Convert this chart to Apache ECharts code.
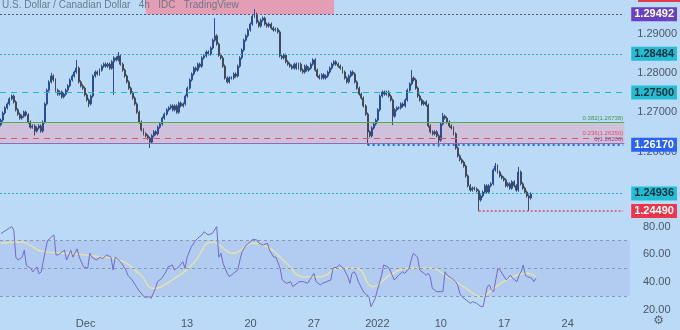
<!DOCTYPE html>
<html>
<head>
<meta charset="utf-8">
<title>USD/CAD 4h</title>
<script src="https://cdn.jsdelivr.net/npm/echarts@6/dist/echarts.min.js"></script>
<style>
  html, body { margin: 0; padding: 0; background: #bbdaf8; }
  #chart { width: 680px; height: 330px; }
</style>
</head>
<body>
<div id="chart"></div>
<script>
// --- data (4h USD/CAD, Nov 22 2021 -> Jan 19 2022) ---
const firstOpen = 1.2668;
const closes = [
  1.2680,1.2698,1.2711,1.2721,1.2734,1.2741,1.2726,1.2706,1.2695,1.2685,
  1.2690,1.2700,1.2693,1.2675,1.2662,1.2665,1.2652,1.2660,1.2665,1.2652,
  1.2675,1.2721,1.2756,1.2777,1.2792,1.2782,1.2756,1.2746,1.2751,1.2739,
  1.2746,1.2756,1.2767,1.2782,1.2792,1.2802,1.2812,1.2777,1.2767,1.2761,
  1.2744,1.2731,1.2721,1.2741,1.2792,1.2802,1.2797,1.2807,1.2817,1.2822,
  1.2817,1.2822,1.2812,1.2828,1.2838,1.2833,1.2843,1.2822,1.2807,1.2792,
  1.2777,1.2761,1.2749,1.2736,1.2721,1.2700,1.2675,1.2655,1.2645,1.2640,
  1.2634,1.2624,1.2640,1.2650,1.2645,1.2662,1.2670,1.2685,1.2695,1.2706,
  1.2711,1.2716,1.2706,1.2716,1.2700,1.2723,1.2716,1.2721,1.2741,1.2761,
  1.2782,1.2797,1.2812,1.2807,1.2822,1.2817,1.2838,1.2843,1.2853,1.2848,
  1.2863,1.2883,1.2894,1.2873,1.2845,1.2838,1.2817,1.2787,1.2777,1.2787,
  1.2787,1.2797,1.2792,1.2817,1.2838,1.2858,1.2883,1.2894,1.2909,1.2924,
  1.2944,1.2949,1.2929,1.2919,1.2934,1.2939,1.2924,1.2919,1.2924,1.2914,
  1.2909,1.2911,1.2904,1.2843,1.2838,1.2845,1.2828,1.2822,1.2817,1.2812,
  1.2822,1.2812,1.2822,1.2807,1.2802,1.2817,1.2807,1.2812,1.2822,1.2833,
  1.2807,1.2792,1.2787,1.2795,1.2787,1.2792,1.2802,1.2812,1.2822,1.2828,
  1.2822,1.2817,1.2812,1.2802,1.2787,1.2777,1.2792,1.2802,1.2797,1.2777,
  1.2761,1.2746,1.2736,1.2716,1.2695,1.2650,1.2640,1.2660,1.2670,1.2680,
  1.2706,1.2741,1.2751,1.2746,1.2751,1.2741,1.2731,1.2690,1.2706,1.2711,
  1.2711,1.2721,1.2716,1.2731,1.2756,1.2772,1.2787,1.2782,1.2761,1.2741,
  1.2731,1.2721,1.2726,1.2718,1.2665,1.2650,1.2645,1.2650,1.2640,1.2629,
  1.2670,1.2690,1.2685,1.2675,1.2665,1.2660,1.2645,1.2609,1.2589,1.2579,
  1.2573,1.2563,1.2538,1.2513,1.2502,1.2507,1.2505,1.2500,1.2477,1.2487,
  1.2497,1.2513,1.2497,1.2513,1.2518,1.2553,1.2563,1.2548,1.2538,1.2533,
  1.2528,1.2513,1.2518,1.2507,1.2523,1.2513,1.2502,1.2548,1.2518,1.2507,
  1.2497,1.2487,1.2482,1.2492
];
// wick extremes that stick out of the bodies: [bar, price]
const spikeLows = [[16,1.2641],[42,1.2713],[54,1.2744],[71,1.2609],[175,1.2617],
  [187,1.2667],[209,1.2612],[228,1.2449],[252,1.2449]];
const spikeHighs = [[24,1.2800],[36,1.2833],[56,1.2853],[102,1.2939],[121,1.2962],
  [196,1.2807],[211,1.2698],[236,1.2571],[247,1.2561]];

// RSI(14) and its moving average: [bar, value]
const rsiPoints = [[0,75],[4,79],[5,80],[6,77.5],[7,58],[8,56],[9,57],[10,58],[11,63],[12,52],
  [14,50],[15,47.5],[17,51],[18,46],[19,47.5],[21,63],[22,70],[24,72.7],[25,74],[26,59.6],
  [27,59.6],[29,62],[30,63],[31,56],[33,63],[34,58],[36,64],[37,58],[39,51],[41,50],
  [42,60.8],[43,58],[45,56],[47,58],[48,57],[50,59.6],[52,58],[53,48.8],[54,58],[55,57],
  [57,53.6],[59,48.8],[60,45],[62,41.6],[63,39.2],[65,34.4],[67,30.8],[68,29],[70,29.6],[71,28.4],
  [73,35.6],[74,40.4],[76,42.8],[78,47.5],[79,51],[81,52.4],[82,48.8],[84,51],[86,54.7],[87,50],
  [88,58],[90,65.5],[92,70],[93,71.6],[95,74],[96,76.3],[98,74],[100,75.2],[101,77.6],[102,80],
  [103,58],[104,60.8],[105,53.6],[107,46.4],[108,44],[110,46.4],[112,48.8],[113,56],[114,62],[116,66.8],
  [118,69],[119,70.9],[121,70.4],[122,68],[124,66.8],[126,68],[127,63],[129,58],[130,58],[132,50],
  [133,41.6],[135,39.2],[137,40.4],[138,36.8],[140,39.2],[141,40.4],[143,40.4],[145,39.2],[146,41.6],[148,46.4],
  [149,40.4],[151,38],[152,39.2],[154,40.4],[156,41.6],[157,50],[159,51],[160,52.4],[162,50],[164,44],
  [165,39.2],[166,46.4],[167,47.5],[168,45],[169,40.4],[171,34.4],[172,32],[174,29.6],[175,22.4],[177,28.4],
  [178,34.4],[180,45],[181,52.4],[183,51],[184,48.8],[185,45],[186,41.6],[188,45],[190,47.5],[191,46.4],
  [193,50],[194,56],[195,60.8],[197,58],[198,48.8],[200,46.4],[201,45],[202,46.4],[203,44],[204,35.6],
  [206,33.2],[208,33.2],[209,33.2],[210,47.5],[211,45],[213,42.8],[215,40.4],[216,38],[217,32],[218,29.6],
  [220,27.2],[222,24.8],[223,26],[225,24.8],[227,22.4],[228,22.4],[230,36.8],[231,38],[232,34.4],[233,33.2],
  [235,50],[236,48.8],[237,46.4],[239,41.6],[241,45],[242,42.8],[244,40.4],[245,45],[246,47.5],[247,52.4],
  [248,45],[249,44],[251,42.8],[252,40.4],[253,42.8]];
const rsiMaPoints = [[0,68],[9,69],[20,62],[31,60.8],[47,58.3],[56,56],[66,45.2],[72,35.6],[81,41.6],
  [91,53.6],[100,69],[110,60.8],[119,68],[126,65.5],[135,53.6],[143,44],[151,44],[160,50],[168,50],
  [176,36.8],[184,45.2],[193,50],[203,50],[211,44],[220,35.6],[227,29.6],[233,35.6],[239,41.6],
  [249,46.4],[253,44]];

// horizontal levels
const resistanceTop = 1.29492;
const level28484 = 1.28484;
const level275 = 1.27500;
const fib382 = 1.26738;
const fib236 = 1.26350;
const fib0 = 1.26200;
const support2617 = 1.26170;
const level24936 = 1.24936;
const low2449 = 1.24490;
const support2617From = 175;   // bar where the dotted support begins
const low2449From = 228;

const priceTicks = [1.26, 1.27, 1.28, 1.29];
const rsiTicks = [20, 40, 60, 80];
const tickLabels = [['2021-12-01','Dec'],['2021-12-13','13'],['2021-12-20','20'],['2021-12-27','27'],
  ['2022-01-03','2022'],['2022-01-10','10'],['2022-01-17','17'],['2022-01-24','24']];
const topBoxFrom = 69, topBoxTo = 159;

// --- 4h bar calendar (weekdays only) ---
const bars = [];
for (let d = new Date(Date.UTC(2021, 10, 22)); d <= new Date(Date.UTC(2022, 0, 28)); d.setUTCDate(d.getUTCDate() + 1)) {
  const wd = d.getUTCDay();
  if (wd === 0 || wd === 6) continue;
  const day = d.toISOString().slice(0, 10);
  for (let h = 0; h < 24; h += 4) {
    if (bars.length === 0 && h < 8) continue;
    bars.push(day + ' ' + String(h).padStart(2, '0'));
  }
}
const labelAt = {};
tickLabels.forEach(([day, txt]) => { labelAt[day + ' 00'] = txt; });
const lastBar = bars.length - 1;

const wickPad = 0.0004;
const candles = closes.map((c, i) => {
  const o = i === 0 ? firstOpen : closes[i - 1];
  let lo = Math.min(o, c) - wickPad;
  let hi = Math.max(o, c) + wickPad;
  spikeLows.forEach(([b, v]) => { if (b === i) lo = v; });
  spikeHighs.forEach(([b, v]) => { if (b === i) hi = v; });
  return [o, c, lo, hi];
});

const FONT = 'Liberation Sans, Arial, sans-serif';
const axisGray = '#4d5563';

function tagLabel(text, bg, fg, dist) {
  return {
    show: true, position: 'end', distance: dist, formatter: text,
    backgroundColor: bg, color: fg, padding: [2, 3, 1, 3],
    fontSize: 11, fontWeight: 'bold', fontFamily: FONT
  };
}
function fibLabel(text, color) {
  return { show: true, position: 'insideEndTop', distance: 1, formatter: text,
    color: color, fontSize: 6, fontFamily: FONT };
}

const chart = echarts.init(document.getElementById('chart'));
chart.setOption({
  animation: false,
  backgroundColor: '#bbdaf8',
  title: {
    text: 'U.S. Dollar / Canadian Dollar   4h   IDC   TradingView',
    left: 2, top: 0, padding: 0,
    textStyle: { fontSize: 10, fontWeight: 'normal', color: '#6d7886', fontFamily: FONT }
  },
  grid: [
    { left: 0, right: 50, top: 0, height: 219 },
    { left: 0, right: 50, top: 219, height: 95 }
  ],
  xAxis: [
    { type: 'category', gridIndex: 0, data: bars, boundaryGap: true,
      axisLine: { show: false }, axisTick: { show: false }, axisLabel: { show: false }, splitLine: { show: false } },
    { type: 'category', gridIndex: 1, data: bars, boundaryGap: true,
      axisLine: { show: false }, axisTick: { show: false }, splitLine: { show: false },
      axisLabel: {
        show: true, margin: 4, fontSize: 11, color: axisGray, fontFamily: FONT, hideOverlap: false,
        interval: (idx, val) => labelAt[val] !== undefined,
        formatter: (val) => labelAt[val] || ''
      } }
  ],
  yAxis: [
    { type: 'value', gridIndex: 0, position: 'right', min: 1.242859, max: 1.298513, scale: true,
      splitLine: { show: false }, axisLine: { show: false }, axisTick: { show: false },
      axisLabel: { margin: 13, fontSize: 11, color: axisGray, fontFamily: FONT,
        customValues: priceTicks, formatter: (v) => v.toFixed(5) } },
    { type: 'value', gridIndex: 1, position: 'right', min: 17.12, max: 85.47,
      splitLine: { show: false }, axisLine: { show: false }, axisTick: { show: false },
      axisLabel: { margin: 13, fontSize: 11, color: axisGray, fontFamily: FONT,
        customValues: rsiTicks, formatter: (v) => v.toFixed(2) } }
  ],
  series: [
    {
      type: 'candlestick', xAxisIndex: 0, yAxisIndex: 0, data: candles,
      barWidth: '70%',
      itemStyle: { color: '#2b4c9b', color0: '#424957', borderColor: '#2b4c9b', borderColor0: '#424957', borderWidth: 1 },
      markArea: {
        silent: true,
        data: [
          [{ yAxis: fib0, itemStyle: { color: 'rgba(238,150,172,0.38)' } }, { yAxis: fib382 }],
          [{ coord: [topBoxFrom, resistanceTop], itemStyle: { color: '#e39db4' } }, { coord: [topBoxTo, 1.2985] }]
        ]
      },
      markLine: {
        silent: true, symbol: 'none', precision: 5,
        data: [
          { yAxis: resistanceTop, lineStyle: { color: '#5a5474', type: [2, 2], width: 1 },
            label: tagLabel('1.29492', '#6a3fc2', '#ffffff', 7) },
          { yAxis: level28484, lineStyle: { color: '#23b3cc', type: [2, 2], width: 1 },
            label: tagLabel('1.28484', '#22bdd3', '#0f2f3a', 7) },
          { yAxis: level275, lineStyle: { color: '#23b3cc', type: [6, 5], width: 1 },
            label: tagLabel('1.27500', '#22bdd3', '#0f2f3a', 7) },
          { yAxis: fib382, lineStyle: { color: '#4caf50', type: 'solid', width: 1 },
            label: fibLabel('0.382(1.26738)', '#3f9a4a') },
          { yAxis: fib236, lineStyle: { color: '#e0506a', type: [6, 5], width: 1 },
            label: fibLabel('0.236(1.26350)', '#e0506a') },
          { yAxis: fib0, lineStyle: { color: '#8a6fb6', type: 'solid', width: 1 },
            label: fibLabel('0(1.26200)', '#8a4f8a') },
          [{ coord: [support2617From, support2617], lineStyle: { color: '#2962ff', type: [2, 3], width: 2 },
             label: tagLabel('1.26170', '#2962ff', '#ffffff', 8) },
           { coord: [lastBar, support2617] }],
          { yAxis: level24936, lineStyle: { color: '#23b3cc', type: [2, 2], width: 1 },
            label: tagLabel('1.24936', '#22bdd3', '#0f2f3a', 7) },
          [{ coord: [low2449From, low2449], lineStyle: { color: '#e0506a', type: [2, 2], width: 1.5 },
             label: tagLabel('1.24490', '#f0344a', '#ffffff', 8) },
           { coord: [lastBar, low2449] }]
        ]
      }
    },
    {
      type: 'line', xAxisIndex: 1, yAxisIndex: 1, data: rsiMaPoints, smooth: 0.5,
      showSymbol: false, lineStyle: { color: '#e9e4a6', width: 1.5, opacity: 0.9 }, z: 2
    },
    {
      type: 'line', xAxisIndex: 1, yAxisIndex: 1, data: rsiPoints,
      showSymbol: false, lineStyle: { color: '#7468cc', width: 1 }, z: 3,
      markArea: { silent: true, data: [[{ yAxis: 30, itemStyle: { color: 'rgba(120,110,200,0.14)' } }, { yAxis: 70 }]] },
      markLine: {
        silent: true, symbol: 'none', label: { show: false },
        lineStyle: { color: '#8a97b0', type: [3, 3], width: 1 },
        data: [{ yAxis: 70 }, { yAxis: 50 }, { yAxis: 30 }]
      }
    }
  ],
  graphic: [
    { type: 'rect', right: 0, top: 0, shape: { width: 42, height: 2 }, style: { fill: '#e23a4e' } },
    { type: 'text', right: 16, bottom: 3, style: { text: '\u2699', fontSize: 12, fill: '#5a6270', fontFamily: 'DejaVu Sans' } }
  ]
});
</script>
</body>
</html>
